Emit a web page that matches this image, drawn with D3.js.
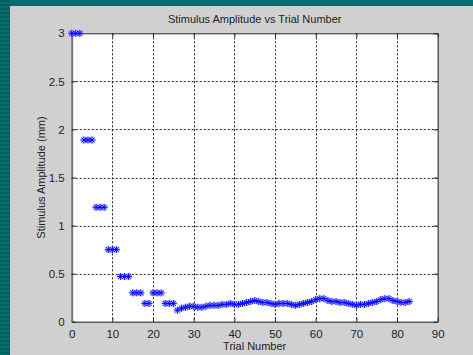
<!DOCTYPE html>
<html>
<head>
<meta charset="utf-8">
<script src="https://cdn.jsdelivr.net/npm/d3@7"></script>
<style>
  body { margin: 0; background: #006e6a; }
  svg { display: block; }
  text { font-family: Arial, "Liberation Sans", sans-serif; fill: #222; }
</style>
</head>
<body>
<div id="chart"></div>
<script>
W = 473;
H = 355;

// trial number (x) and stimulus amplitude in mm (y)
trials = d3.range(0, 84);
amplitude = [
  3.0, 3.0, 3.0, 1.89, 1.89, 1.89, 1.19, 1.19, 1.19, 0.75,
  0.75, 0.75, 0.47, 0.47, 0.47, 0.30, 0.30, 0.30, 0.19, 0.19,
  0.30, 0.30, 0.30, 0.19, 0.19, 0.19, 0.12, 0.14, 0.15, 0.16,
  0.16, 0.15, 0.15, 0.16, 0.17, 0.17, 0.17, 0.18, 0.18, 0.19,
  0.18, 0.18, 0.19, 0.20, 0.21, 0.22, 0.21, 0.20, 0.20, 0.19,
  0.18, 0.19, 0.19, 0.19, 0.18, 0.17, 0.18, 0.19, 0.20, 0.21,
  0.23, 0.24, 0.24, 0.22, 0.21, 0.21, 0.20, 0.20, 0.19, 0.18,
  0.17, 0.18, 0.18, 0.19, 0.20, 0.21, 0.23, 0.24, 0.24, 0.22,
  0.21, 0.20, 0.20, 0.21
];
xTicks = [0, 10, 20, 30, 40, 50, 60, 70, 80, 90];
yTicks = [0, 0.5, 1, 1.5, 2, 2.5, 3];

titleText = "Stimulus Amplitude vs Trial Number";
xLabelText = "Trial Number";
yLabelText = "Stimulus Amplitude (mm)";

plot = { left: 71.7, right: 437.7, top: 33.3, bottom: 321.7 };

var svg = d3.select("#chart").append("svg")
  .attr("width", W)
  .attr("height", H);

// slide background with darker stripes on the left
svg.append("rect").attr("width", W).attr("height", H).attr("fill", "#006e6a");
svg.append("g").selectAll("rect")
  .data(d3.range(0, H, 4))
  .enter().append("rect")
  .attr("x", 0).attr("y", function(d) { return d; })
  .attr("width", 10).attr("height", 2)
  .attr("fill", "#005e5b");

// figure panel
svg.append("rect")
  .attr("x", 10).attr("y", 6)
  .attr("width", W - 10).attr("height", H - 6)
  .attr("fill", "#d0d0d0");

xScale = d3.scaleLinear().domain([0, 90]).range([plot.left, plot.right]);
yScale = d3.scaleLinear().domain([0, 3]).range([plot.bottom, plot.top]);

svg.append("rect")
  .attr("x", plot.left).attr("y", plot.top)
  .attr("width", plot.right - plot.left).attr("height", plot.bottom - plot.top)
  .attr("fill", "#ffffff");

// dashed grid
var grid = svg.append("g").attr("stroke", "#222").attr("stroke-dasharray", "2,2").attr("stroke-width", 1);
grid.selectAll(".gx").data(xTicks.slice(1, -1)).enter().append("line")
  .attr("x1", function(d) { return Math.round(xScale(d)) + 0.5; })
  .attr("x2", function(d) { return Math.round(xScale(d)) + 0.5; })
  .attr("y1", plot.top).attr("y2", plot.bottom);
grid.selectAll(".gy").data(yTicks.slice(1, -1)).enter().append("line")
  .attr("y1", function(d) { return Math.round(yScale(d)) + 0.5; })
  .attr("y2", function(d) { return Math.round(yScale(d)) + 0.5; })
  .attr("x1", plot.left).attr("x2", plot.right);

// axes, matlab style: ticks inside, box around
xAxis = d3.axisBottom(xScale).tickValues(xTicks).tickSizeInner(-4).tickSizeOuter(0).tickPadding(8);
xAxisG = svg.append("g")
  .attr("transform", "translate(0," + plot.bottom + ")")
  .call(xAxis);
yAxis = d3.axisLeft(yScale).tickValues(yTicks).tickSizeInner(-4).tickSizeOuter(0).tickPadding(7)
  .tickFormat(function(d) { return d; });
yAxisG = svg.append("g")
  .attr("transform", "translate(" + plot.left + ",0)")
  .call(yAxis);
xTopG = svg.append("g")
  .attr("transform", "translate(0," + plot.top + ")")
  .call(d3.axisTop(xScale).tickValues(xTicks).tickSizeInner(-4).tickSizeOuter(0).tickFormat(""));
yRightG = svg.append("g")
  .attr("transform", "translate(" + plot.right + ",0)")
  .call(d3.axisRight(yScale).tickValues(yTicks).tickSizeInner(-4).tickSizeOuter(0).tickFormat(""));

svg.selectAll(".domain").attr("stroke", "#222");
svg.selectAll(".tick line").attr("stroke", "#222");
yAxisG.select(".domain").attr("stroke", "#777").attr("stroke-width", 2);
svg.selectAll(".tick text")
  .style("font-family", "Arial, 'Liberation Sans', sans-serif")
  .style("font-size", "11.5px")
  .attr("fill", "#333");

// star markers
var star = "M-3.5,0H3.5M0,-3.5V3.5M-2.5,-2.5L2.5,2.5M-2.5,2.5L2.5,-2.5";
var pts = svg.append("g");
pts.selectAll(".halo").data(trials).enter().append("path")
  .attr("d", star)
  .attr("transform", function(d, i) { return "translate(" + xScale(d) + "," + yScale(amplitude[i]) + ")"; })
  .attr("fill", "none").attr("stroke", "#9a9aff").attr("stroke-width", 2.4).attr("stroke-opacity", 0.55);
pts.selectAll(".mark").data(trials).enter().append("path")
  .attr("d", star)
  .attr("transform", function(d, i) { return "translate(" + xScale(d) + "," + yScale(amplitude[i]) + ")"; })
  .attr("fill", "none").attr("stroke", "#0000ff").attr("stroke-width", 0.9);

// labels
svg.append("text")
  .attr("x", (plot.left + plot.right) / 2).attr("y", 23)
  .attr("text-anchor", "middle").style("font-size", "11px")
  .text(titleText);
svg.append("text")
  .attr("x", (plot.left + plot.right) / 2).attr("y", 350)
  .attr("text-anchor", "middle").style("font-size", "11px")
  .text(xLabelText);
svg.append("text")
  .attr("transform", "translate(45," + (plot.top + plot.bottom) / 2 + ") rotate(-90)")
  .attr("text-anchor", "middle").style("font-size", "11px")
  .text(yLabelText);
</script>
</body>
</html>
